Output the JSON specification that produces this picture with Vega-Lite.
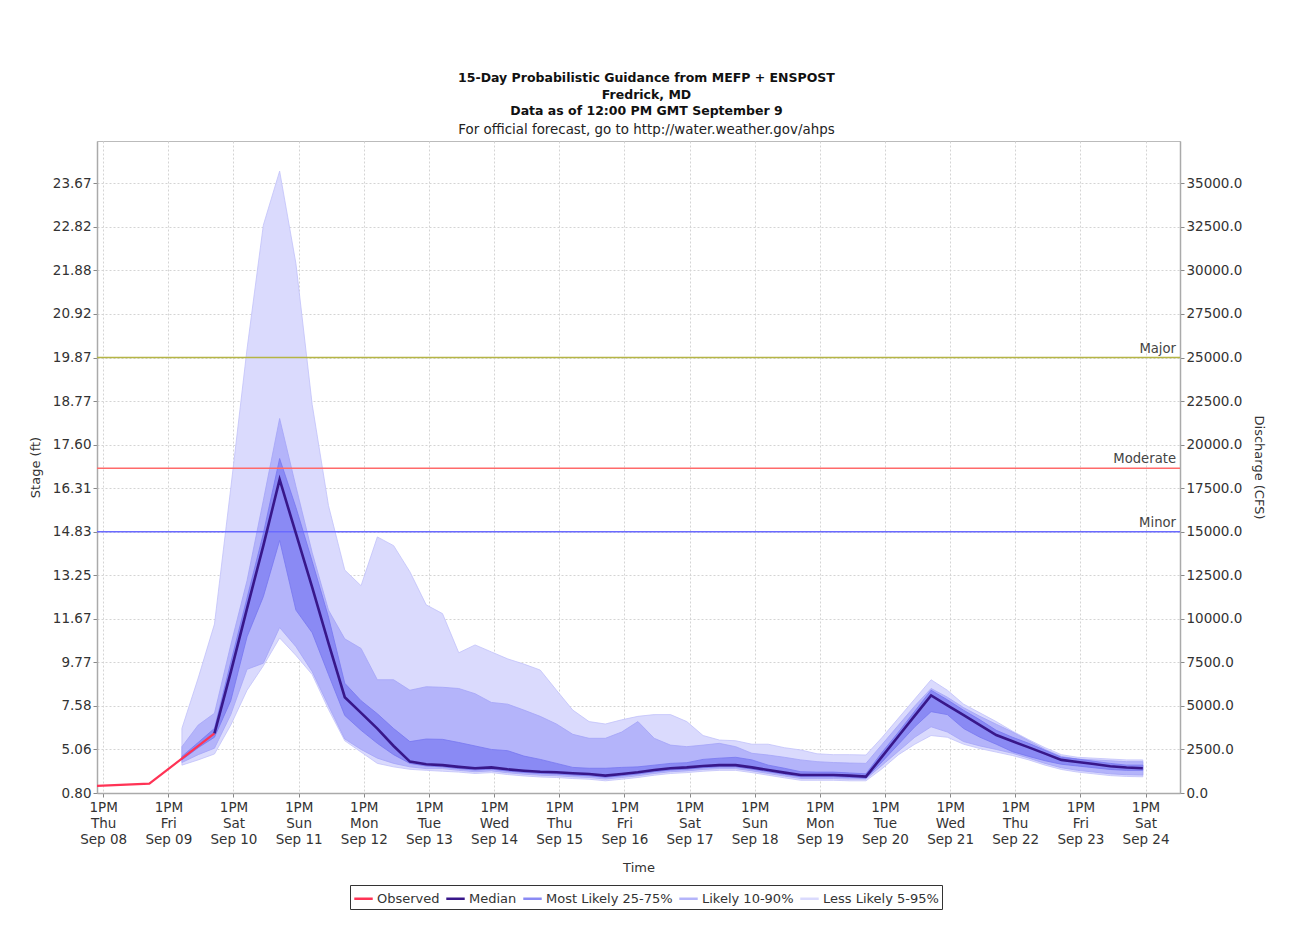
{
  "$schema": "https://vega.github.io/schema/vega-lite/v6.json",
  "width": 1083,
  "height": 652,
  "autosize": {"type": "none"},
  "padding": {"left": 97, "top": 141, "right": 119, "bottom": 149},
  "background": "white",
  "title": {
    "text": ["15-Day Probabilistic Guidance from MEFP + ENSPOST", "Fredrick, MD", "Data as of 12:00 PM GMT September 9"],
    "subtitle": "For official forecast, go to http://water.weather.gov/ahps",
    "anchor": "middle",
    "dx": 8,
    "offset": 5,
    "font": "DejaVu Sans",
    "fontSize": 12.5,
    "fontWeight": "bold",
    "lineHeight": 16.5,
    "color": "#111111",
    "subtitleFont": "DejaVu Sans",
    "subtitleFontSize": 13.4,
    "subtitleColor": "#222222",
    "subtitlePadding": 5
  },
  "datasets": {
    "fc": [
      {"hour": 29, "p05": 1600, "p10": 1750, "p25": 1900, "med": null, "p75": 2100, "p90": 2660, "p95": 3710},
      {"hour": 35, "p05": 1900, "p10": 2200, "p25": 2600, "med": null, "p75": 2900, "p90": 3900, "p95": 6600},
      {"hour": 41, "p05": 2240, "p10": 2570, "p25": 3200, "med": 3420, "p75": 3710, "p90": 4580, "p95": 9700},
      {"hour": 47, "p05": 3900, "p10": 4500, "p25": 5300, "med": 6940, "p75": 7500, "p90": 8500, "p95": 17500},
      {"hour": 53, "p05": 5900, "p10": 7100, "p25": 8970, "med": 10600, "p75": 11200, "p90": 12200, "p95": 25500},
      {"hour": 59, "p05": 7300, "p10": 7450, "p25": 11270, "med": 14200, "p75": 14900, "p90": 16800, "p95": 32600},
      {"hour": 65, "p05": 8900, "p10": 9500, "p25": 14500, "med": 18000, "p75": 19200, "p90": 21500, "p95": 35700},
      {"hour": 71, "p05": 7900, "p10": 8400, "p25": 10500, "med": 14900, "p75": 16400, "p90": 17600, "p95": 30400},
      {"hour": 77, "p05": 6800, "p10": 6960, "p25": 9200, "med": 11800, "p75": 13300, "p90": 13800, "p95": 22300},
      {"hour": 83, "p05": 4800, "p10": 5000, "p25": 6800, "med": 8600, "p75": 10100, "p90": 10500, "p95": 16500},
      {"hour": 89, "p05": 3000, "p10": 3100, "p25": 4450, "med": 5500, "p75": 6300, "p90": 8850, "p95": 12800},
      {"hour": 95, "p05": 2350, "p10": 2500, "p25": 3600, "med": 4600, "p75": 5300, "p90": 8300, "p95": 11900},
      {"hour": 101, "p05": 1700, "p10": 2000, "p25": 2850, "med": 3700, "p75": 4550, "p90": 6500, "p95": 14700},
      {"hour": 107, "p05": 1500, "p10": 1700, "p25": 2200, "med": 2700, "p75": 3700, "p90": 6500, "p95": 14200},
      {"hour": 113, "p05": 1360, "p10": 1500, "p25": 1700, "med": 1800, "p75": 2950, "p90": 5900, "p95": 12700},
      {"hour": 119, "p05": 1300, "p10": 1400, "p25": 1550, "med": 1650, "p75": 3100, "p90": 6100, "p95": 10800},
      {"hour": 125, "p05": 1250, "p10": 1400, "p25": 1500, "med": 1600, "p75": 3080, "p90": 6070, "p95": 10300},
      {"hour": 131, "p05": 1200, "p10": 1300, "p25": 1400, "med": 1500, "p75": 2900, "p90": 6000, "p95": 8050},
      {"hour": 137, "p05": 1120, "p10": 1220, "p25": 1320, "med": 1420, "p75": 2700, "p90": 5700, "p95": 8500},
      {"hour": 143, "p05": 1170, "p10": 1270, "p25": 1370, "med": 1470, "p75": 2500, "p90": 5200, "p95": 8100},
      {"hour": 149, "p05": 1060, "p10": 1160, "p25": 1260, "med": 1360, "p75": 2430, "p90": 5100, "p95": 7700},
      {"hour": 155, "p05": 980, "p10": 1080, "p25": 1180, "med": 1280, "p75": 2120, "p90": 4760, "p95": 7400},
      {"hour": 161, "p05": 920, "p10": 1020, "p25": 1120, "med": 1220, "p75": 1930, "p90": 4400, "p95": 7060},
      {"hour": 167, "p05": 890, "p10": 990, "p25": 1090, "med": 1190, "p75": 1700, "p90": 3960, "p95": 5900},
      {"hour": 173, "p05": 830, "p10": 930, "p25": 1030, "med": 1130, "p75": 1470, "p90": 3370, "p95": 4760},
      {"hour": 179, "p05": 790, "p10": 890, "p25": 990, "med": 1090, "p75": 1420, "p90": 3140, "p95": 4100},
      {"hour": 185, "p05": 700, "p10": 800, "p25": 900, "med": 1000, "p75": 1420, "p90": 3140, "p95": 3960},
      {"hour": 191, "p05": 790, "p10": 890, "p25": 990, "med": 1090, "p75": 1470, "p90": 3500, "p95": 4200},
      {"hour": 197, "p05": 890, "p10": 990, "p25": 1090, "med": 1190, "p75": 1500, "p90": 4100, "p95": 4400},
      {"hour": 203, "p05": 1020, "p10": 1120, "p25": 1220, "med": 1320, "p75": 1600, "p90": 3140, "p95": 4500},
      {"hour": 209, "p05": 1120, "p10": 1220, "p25": 1320, "med": 1420, "p75": 1700, "p90": 2750, "p95": 4500},
      {"hour": 215, "p05": 1170, "p10": 1270, "p25": 1370, "med": 1470, "p75": 1740, "p90": 2660, "p95": 4100},
      {"hour": 221, "p05": 1250, "p10": 1350, "p25": 1450, "med": 1550, "p75": 1930, "p90": 2750, "p95": 3300},
      {"hour": 227, "p05": 1300, "p10": 1400, "p25": 1500, "med": 1600, "p75": 2000, "p90": 2850, "p95": 3040},
      {"hour": 233, "p05": 1300, "p10": 1400, "p25": 1500, "med": 1600, "p75": 2050, "p90": 2660, "p95": 3000},
      {"hour": 239, "p05": 1170, "p10": 1270, "p25": 1370, "med": 1470, "p75": 1900, "p90": 2280, "p95": 2800},
      {"hour": 245, "p05": 1020, "p10": 1120, "p25": 1220, "med": 1320, "p75": 1600, "p90": 2180, "p95": 2800},
      {"hour": 251, "p05": 870, "p10": 970, "p25": 1070, "med": 1170, "p75": 1420, "p90": 2050, "p95": 2600},
      {"hour": 257, "p05": 730, "p10": 830, "p25": 930, "med": 1030, "p75": 1220, "p90": 1900, "p95": 2470},
      {"hour": 263, "p05": 730, "p10": 830, "p25": 930, "med": 1030, "p75": 1200, "p90": 1800, "p95": 2250},
      {"hour": 269, "p05": 730, "p10": 830, "p25": 930, "med": 1030, "p75": 1200, "p90": 1750, "p95": 2200},
      {"hour": 275, "p05": 700, "p10": 800, "p25": 900, "med": 1000, "p75": 1150, "p90": 1720, "p95": 2200},
      {"hour": 281, "p05": 700, "p10": 800, "p25": 850, "med": 940, "p75": 1100, "p90": 1700, "p95": 2180},
      {"hour": 287, "p05": 1400, "p10": 1600, "p25": 1800, "med": 2100, "p75": 2350, "p90": 2800, "p95": 3200},
      {"hour": 293, "p05": 2200, "p10": 2400, "p25": 2800, "med": 3270, "p75": 3500, "p90": 3900, "p95": 4300},
      {"hour": 299, "p05": 2800, "p10": 3200, "p25": 3800, "med": 4440, "p75": 4700, "p90": 5000, "p95": 5400},
      {"hour": 305, "p05": 3300, "p10": 3800, "p25": 4670, "med": 5600, "p75": 5900, "p90": 6000, "p95": 6500},
      {"hour": 311, "p05": 3200, "p10": 3500, "p25": 4500, "med": 5030, "p75": 5350, "p90": 5500, "p95": 5900},
      {"hour": 317, "p05": 2800, "p10": 2950, "p25": 3700, "med": 4470, "p75": 4750, "p90": 4900, "p95": 5100},
      {"hour": 323, "p05": 2550, "p10": 2700, "p25": 3200, "med": 3900, "p75": 4200, "p90": 4400, "p95": 4600},
      {"hour": 329, "p05": 2350, "p10": 2500, "p25": 2800, "med": 3330, "p75": 3600, "p90": 3950, "p95": 4100},
      {"hour": 335, "p05": 2150, "p10": 2280, "p25": 2370, "med": 2970, "p75": 3200, "p90": 3500, "p95": 3550},
      {"hour": 341, "p05": 1900, "p10": 2000, "p25": 2100, "med": 2620, "p75": 2850, "p90": 3000, "p95": 3060},
      {"hour": 347, "p05": 1600, "p10": 1700, "p25": 1850, "med": 2260, "p75": 2450, "p90": 2500, "p95": 2600},
      {"hour": 353, "p05": 1350, "p10": 1450, "p25": 1650, "med": 1900, "p75": 2050, "p90": 2100, "p95": 2200},
      {"hour": 359, "p05": 1200, "p10": 1300, "p25": 1550, "med": 1780, "p75": 1950, "p90": 1950, "p95": 2050},
      {"hour": 365, "p05": 1100, "p10": 1200, "p25": 1450, "med": 1660, "p75": 1820, "p90": 1900, "p95": 2000},
      {"hour": 371, "p05": 1000, "p10": 1100, "p25": 1350, "med": 1540, "p75": 1700, "p90": 1850, "p95": 1950},
      {"hour": 377, "p05": 950, "p10": 1050, "p25": 1300, "med": 1460, "p75": 1600, "p90": 1800, "p95": 1900},
      {"hour": 383, "p05": 930, "p10": 1030, "p25": 1300, "med": 1420, "p75": 1600, "p90": 1800, "p95": 1900}
    ],
    "obs": [
      {"hour": -6, "flow": 380},
      {"hour": 17, "flow": 534},
      {"hour": 41, "flow": 3420}
    ],
    "thresholds": [
      {"name": "Major", "flow": 25000},
      {"name": "Moderate", "flow": 18650},
      {"name": "Minor", "flow": 15000}
    ]
  },
  "layer": [
    {
      "data": {"name": "fc"},
      "mark": {"type": "area", "stroke": "#c2c2fa", "strokeWidth": 0.8, "opacity": 1},
      "encoding": {
        "x": {
          "field": "hour", "type": "quantitative",
          "scale": {"domain": [-2.28, 396.7], "nice": false, "zero": false},
          "axis": {
            "title": "Time",
            "values": [0, 24, 48, 72, 96, 120, 144, 168, 192, 216, 240, 264, 288, 312, 336, 360, 384],
            "labelExpr": "['1PM', ['Thu','Fri','Sat','Sun','Mon','Tue','Wed'][round(datum.value/24)%7], 'Sep ' + ((8+round(datum.value/24)) < 10 ? '0' : '') + (8+round(datum.value/24))]",
            "labelLineHeight": 16,
            "labelPadding": 3,
            "labelBaseline": "top",
            "titlePadding": 16,
            "grid": true
          }
        },
        "y": {
          "field": "p95", "type": "quantitative",
          "scale": {"domain": [0, 37430], "nice": false, "zero": true},
          "axis": {
            "orient": "left",
            "title": "Stage (ft)",
            "values": [0, 2500, 5000, 7500, 10000, 12500, 15000, 17500, 20000, 22500, 25000, 27500, 30000, 32500, 35000],
            "labelExpr": "['0.80','5.06','7.58','9.77','11.67','13.25','14.83','16.31','17.60','18.77','19.87','20.92','21.88','22.82','23.67'][round(datum.value/2500)]",
            "grid": true,
            "titlePadding": 10
          }
        },
        "y2": {"field": "p05"},
        "color": {
          "datum": "Less Likely 5-95%",
          "scale": {
            "domain": ["Observed", "Median", "Most Likely 25-75%", "Likely 10-90%", "Less Likely 5-95%"],
            "range": ["#ff3355", "#38178a", "#8a8af4", "#b4b4fa", "#dadafd"]
          },
          "legend": {
            "title": null,
            "orient": "none",
            "legendX": 253,
            "legendY": 744,
            "direction": "horizontal",
            "symbolType": "stroke",
            "symbolSize": 340,
            "symbolStrokeWidth": 2.5,
            "labelFontSize": 13,
            "labelFont": "DejaVu Sans",
            "labelColor": "#333333",
            "labelOffset": 3,
            "columnPadding": 1,
            "strokeColor": "#333333",
            "fillColor": "white",
            "padding": 3
          }
        }
      }
    },
    {
      "data": {"name": "fc"},
      "mark": {"type": "area", "stroke": "#a4a4f7", "strokeWidth": 0.8, "opacity": 1},
      "encoding": {
        "x": {"field": "hour", "type": "quantitative"},
        "y": {
          "field": "p90", "type": "quantitative",
          "axis": {
            "orient": "right",
            "title": "Discharge (CFS)",
            "values": [0, 2500, 5000, 7500, 10000, 12500, 15000, 17500, 20000, 22500, 25000, 27500, 30000, 32500, 35000],
            "format": ".1f",
            "grid": false,
            "titlePadding": 10
          }
        },
        "y2": {"field": "p10"},
        "color": {"datum": "Likely 10-90%"}
      }
    },
    {
      "data": {"name": "fc"},
      "mark": {"type": "area", "stroke": "#7777f0", "strokeWidth": 0.8, "opacity": 1},
      "encoding": {
        "x": {"field": "hour", "type": "quantitative"},
        "y": {"field": "p75", "type": "quantitative", "axis": null},
        "y2": {"field": "p25"},
        "color": {"datum": "Most Likely 25-75%"}
      }
    },
    {
      "data": {"name": "thresholds"},
      "mark": {"type": "rule", "strokeWidth": 1.5},
      "encoding": {
        "y": {"field": "flow", "type": "quantitative", "axis": null},
        "stroke": {
          "field": "name", "type": "nominal",
          "scale": {"domain": ["Major", "Moderate", "Minor"], "range": ["#b5b545", "#ff6a6a", "#6a6aff"]},
          "legend": null
        }
      }
    },
    {
      "data": {"name": "thresholds"},
      "mark": {"type": "text", "align": "right", "baseline": "bottom", "dx": -4, "dy": -2, "font": "DejaVu Sans", "fontSize": 13.2, "color": "#444444"},
      "encoding": {
        "x": {"datum": 396.7, "type": "quantitative"},
        "y": {"field": "flow", "type": "quantitative", "axis": null},
        "text": {"field": "name"}
      }
    },
    {
      "data": {"name": "obs"},
      "mark": {"type": "line", "strokeWidth": 2.2, "clip": true},
      "encoding": {
        "x": {"field": "hour", "type": "quantitative"},
        "y": {"field": "flow", "type": "quantitative", "axis": null},
        "color": {"datum": "Observed"}
      }
    },
    {
      "data": {"name": "fc"},
      "mark": {"type": "line", "strokeWidth": 2.6},
      "encoding": {
        "x": {"field": "hour", "type": "quantitative"},
        "y": {"field": "med", "type": "quantitative", "axis": null},
        "color": {"datum": "Median"}
      }
    }
  ],
  "resolve": {"axis": {"y": "independent"}},
  "config": {
    "font": "DejaVu Sans",
    "view": {"stroke": "#bbbbbb", "strokeWidth": 1},
    "axis": {
      "labelFont": "DejaVu Sans",
      "labelFontSize": 13.5,
      "labelColor": "#333333",
      "titleFont": "DejaVu Sans",
      "titleFontSize": 13,
      "titleFontWeight": "normal",
      "titleColor": "#333333",
      "gridColor": "#d4d4d4",
      "gridDash": [2, 2],
      "gridWidth": 1,
      "domainColor": "#aaaaaa",
      "domainWidth": 1.5,
      "tickColor": "#888888",
      "tickSize": 4
    }
  }
}
